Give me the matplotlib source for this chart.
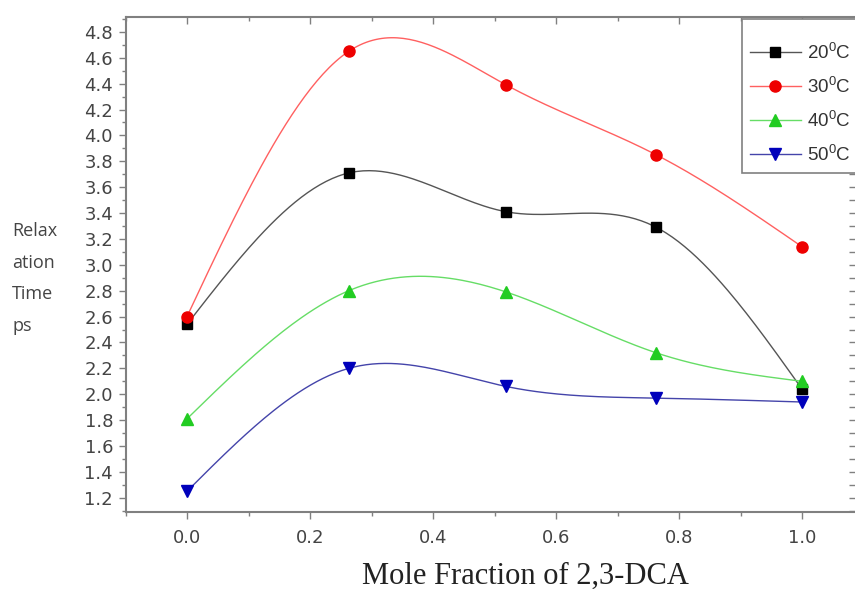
import numpy as np
import matplotlib
matplotlib.use("Agg")
import matplotlib.pyplot as plt
from matplotlib.lines import Line2D
from matplotlib.patches import Rectangle
from matplotlib.ticker import MultipleLocator, FormatStrFormatter

# data
mole_frac = [0.0, 0.263, 0.519, 0.763, 1.0]
t20 = [2.54, 3.71, 3.41, 3.29, 2.04]
t30 = [2.60, 4.65, 4.39, 3.85, 3.14]
t40 = [1.81, 2.80, 2.79, 2.32, 2.10]
t50 = [1.25, 2.20, 2.06, 1.97, 1.94]
labels = [r'20$^\mathrm{0}$C', r'30$^\mathrm{0}$C', r'40$^\mathrm{0}$C', r'50$^\mathrm{0}$C']
ylab_lines = ['Relax', 'ation', 'Time', 'ps']


def natural_spline(x, y, n=200):
    # plain natural cubic spline, like origin's spline connection
    x = np.asarray(x, float)
    y = np.asarray(y, float)
    k = len(x)
    h = np.diff(x)
    A = np.zeros((k, k))
    r = np.zeros(k)
    A[0, 0] = 1
    A[-1, -1] = 1
    for i in range(1, k - 1):
        A[i, i - 1] = h[i - 1]
        A[i, i] = 2 * (h[i - 1] + h[i])
        A[i, i + 1] = h[i]
        r[i] = 6 * ((y[i + 1] - y[i]) / h[i] - (y[i] - y[i - 1]) / h[i - 1])
    M = np.linalg.solve(A, r)
    xs = np.linspace(x[0], x[-1], n)
    ys = np.zeros_like(xs)
    for j, xv in enumerate(xs):
        i = min(np.searchsorted(x, xv, side='right') - 1, k - 2)
        a = x[i + 1] - xv
        b = xv - x[i]
        ys[j] = (M[i] * a**3 + M[i + 1] * b**3) / (6 * h[i]) \
            + (y[i] / h[i] - M[i] * h[i] / 6) * a \
            + (y[i + 1] / h[i] - M[i + 1] * h[i] / 6) * b
    return xs, ys


plt.rcParams['font.family'] = ['DejaVu Sans']
plt.rcParams['mathtext.fontset'] = 'custom'
plt.rcParams['mathtext.rm'] = 'Liberation Sans'

W, H = 855, 589
fig = plt.figure(figsize=(W / 100, H / 100), dpi=100)
fig.patch.set_facecolor('white')

xlo, xhi = -0.1, 1.1
ylo, yhi = 1.09, 4.915
px0, px1 = 187, 802          # pixel of x=0 and x=1
left = px0 + xlo * (px1 - px0)
right = px0 + xhi * (px1 - px0)
top, bottom = 17, 512
ax = fig.add_axes([left / W, (H - bottom) / H, (right - left) / W, (bottom - top) / H])

series = [
    (t20, 's', '#000000', '#555555', 7),
    (t30, 'o', '#ee0000', '#ff6060', 8),
    (t40, '^', '#22cc22', '#66dd66', 8),
    (t50, 'v', '#0000bb', '#4444aa', 8),
]

handles = []
for (vals, mk, mcol, lcol, ms), lab in zip(series, labels):
    xs, ys = natural_spline(mole_frac, vals)
    ax.plot(xs, ys, color=lcol, lw=1.0, zorder=2)
    ax.plot(mole_frac, vals, ls='none', marker=mk, ms=ms, mfc=mcol, mec=mcol, zorder=3)
    handles.append(Line2D([], [], color=lcol, lw=1.0, marker=mk, ms=ms, mfc=mcol, mec=mcol))

ax.set_xlim(xlo, xhi)
ax.set_ylim(ylo, yhi)

ax.xaxis.set_major_locator(MultipleLocator(0.2))
ax.xaxis.set_minor_locator(MultipleLocator(0.1))
ax.yaxis.set_major_locator(MultipleLocator(0.2))
ax.yaxis.set_minor_locator(MultipleLocator(0.1))
ax.xaxis.set_major_formatter(FormatStrFormatter('%.1f'))
ax.yaxis.set_major_formatter(FormatStrFormatter('%.1f'))

for s in ax.spines.values():
    s.set_color('#808080')
    s.set_linewidth(1.5)

ax.tick_params(axis='both', which='both', colors='#808080', labelcolor='#444444',
               labelsize=13, width=1.0)
ax.tick_params(axis='x', which='major', direction='out', length=5, pad=7, top=True)
ax.tick_params(axis='x', which='minor', direction='out', length=3, top=True)
ax.tick_params(axis='y', which='major', direction='out', length=5, pad=4, right=True)
ax.tick_params(axis='y', which='minor', direction='out', length=3, right=True)
# top/right mirror ticks point inward
for t in ax.xaxis.get_major_ticks() + ax.xaxis.get_minor_ticks():
    t.tick2line.set_marker(3)
for t in ax.yaxis.get_major_ticks() + ax.yaxis.get_minor_ticks():
    t.tick2line.set_marker(0)
    t.tick2line.set_markersize(11)

# legend box runs off the right edge like the source
fig.patches.append(Rectangle((742 / W, (H - 173) / H), 0.3, (173 - 19) / H,
                             transform=fig.transFigure, fc='white',
                             ec='#808080', lw=1.2, zorder=5))
leg = fig.legend(handles, labels, loc='upper left', bbox_to_anchor=(750 / W, (H - 42) / H),
                 bbox_transform=fig.transFigure, frameon=False,
                 prop={'family': 'Liberation Sans', 'size': 13.5},
                 handlelength=2.7, handletextpad=0.35,
                 labelspacing=0.7, borderpad=0, borderaxespad=0)
for t in leg.get_texts():
    t.set_color('#333333')

fig.text(525 / W, (H - 576) / H, 'Mole Fraction of 2,3-DCA', ha='center', va='center',
         fontsize=22, family='Liberation Serif', color='#222222')

ylab_y = [231, 263, 294, 326]
for s, yy in zip(ylab_lines, ylab_y):
    fig.text(12 / W, (H - yy) / H, s, ha='left', va='center',
             fontsize=13, family='Open Sans', color='#444444')

fig.savefig('out.png', dpi=100)
